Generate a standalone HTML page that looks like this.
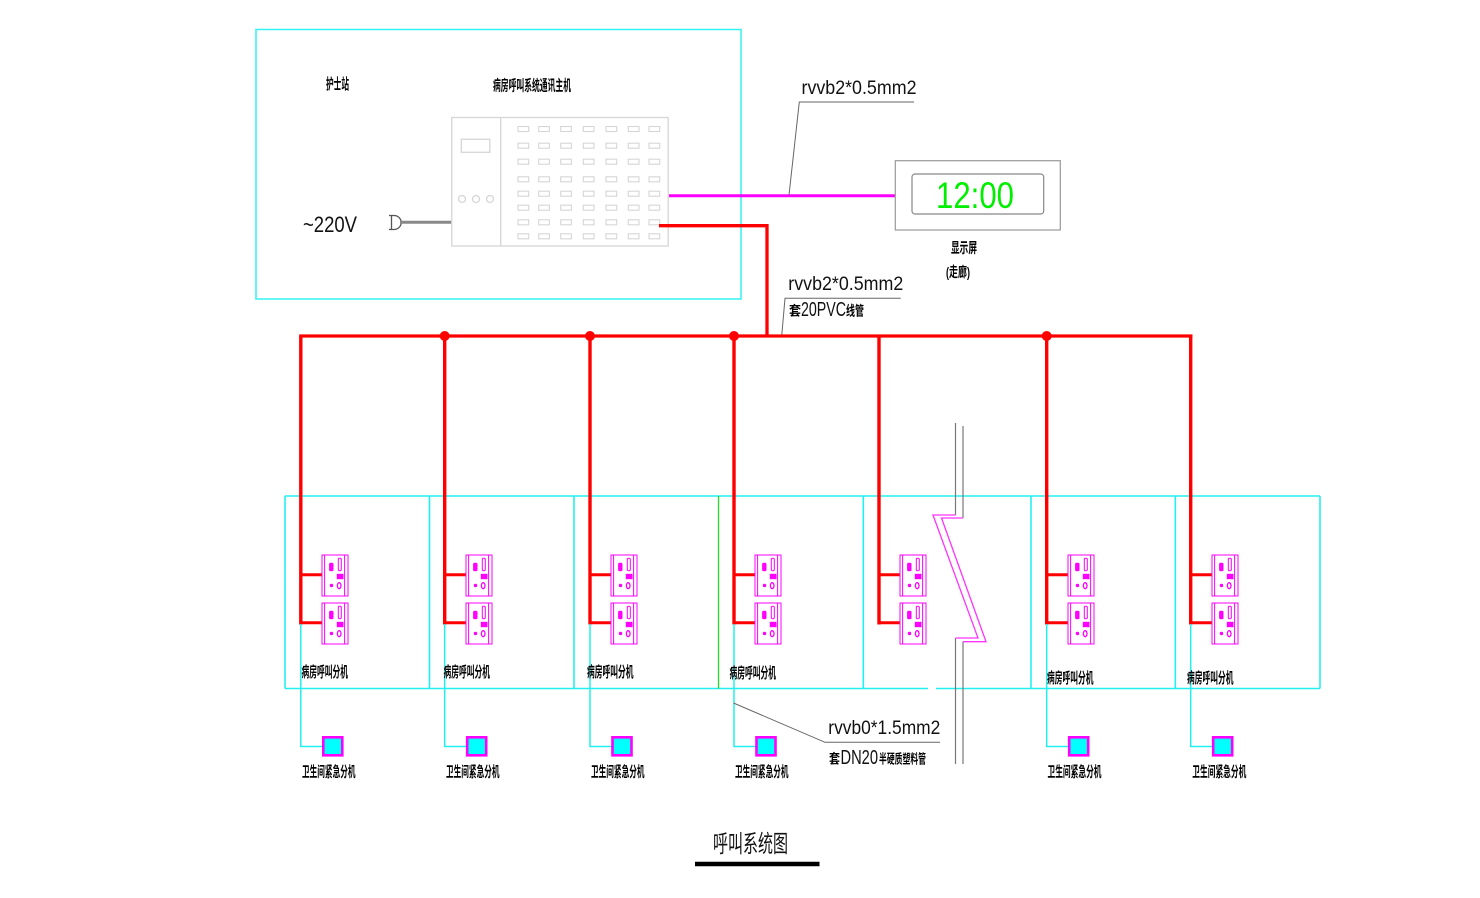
<!DOCTYPE html>
<html>
<head>
<meta charset="utf-8">
<style>
  html,body{margin:0;padding:0;background:#fff;}
  svg{display:block;}
  .cjk{font-family:"Liberation Sans","Noto Sans CJK SC",sans-serif;font-weight:bold;fill:#000;}
  .lat{font-family:"Liberation Sans","Noto Sans CJK SC",sans-serif;fill:#111;}
</style>
</head>
<body>
<svg width="1480" height="898" viewBox="0 0 1480 898" xmlns="http://www.w3.org/2000/svg">
  <rect x="0" y="0" width="1480" height="898" fill="#fff"/>

  <!-- Nurse station box -->
  <rect x="256" y="29.5" width="485" height="269.5" fill="none" stroke="#33f2f2" stroke-width="1.5"/>
  <text class="cjk" x="326" y="89" font-size="15" textLength="23" lengthAdjust="spacingAndGlyphs">护士站</text>
  <text class="cjk" x="493" y="90.5" font-size="15" textLength="78" lengthAdjust="spacingAndGlyphs">病房呼叫系统通讯主机</text>
  <text class="lat" x="303" y="232" font-size="22" textLength="54" lengthAdjust="spacingAndGlyphs">~220V</text>

  <!-- plug -->
  <g fill="none" stroke="#555" stroke-width="1.3">
    <line x1="391.5" y1="215" x2="391.5" y2="230"/>
    <line x1="389" y1="215.5" x2="394" y2="215.5"/>
    <line x1="389" y1="229.5" x2="394" y2="229.5"/>
    <path d="M394,215.5 A7.2,7 0 0 1 394,229.5"/>
  </g>
  <line x1="400" y1="222.3" x2="452" y2="222.3" stroke="#888" stroke-width="3"/>

  <!-- host -->
  <g fill="none" stroke="#d6d6d6" stroke-width="1.3">
    <rect x="451.7" y="117.5" width="216.5" height="128.5"/>
    <line x1="500.7" y1="117.5" x2="500.7" y2="246"/>
    <rect x="461.3" y="139.3" width="28.5" height="13"/>
    <circle cx="462" cy="199" r="3.5"/>
    <circle cx="476" cy="199" r="3.5"/>
    <circle cx="490" cy="199" r="3.5"/>
  </g>
  <g fill="none" stroke="#d6d6d6" stroke-width="1.1">
    <!-- grid generated: 7 cols x 8 rows -->
    <rect x="518" y="126.5" width="10.7" height="5"/><rect x="538.7" y="126.5" width="10.7" height="5"/><rect x="560.7" y="126.5" width="10.7" height="5"/><rect x="583.3" y="126.5" width="10.7" height="5"/><rect x="606" y="126.5" width="10.7" height="5"/><rect x="628.3" y="126.5" width="10.7" height="5"/><rect x="649" y="126.5" width="10.7" height="5"/>
    <rect x="518" y="143.2" width="10.7" height="5"/><rect x="538.7" y="143.2" width="10.7" height="5"/><rect x="560.7" y="143.2" width="10.7" height="5"/><rect x="583.3" y="143.2" width="10.7" height="5"/><rect x="606" y="143.2" width="10.7" height="5"/><rect x="628.3" y="143.2" width="10.7" height="5"/><rect x="649" y="143.2" width="10.7" height="5"/>
    <rect x="518" y="159.2" width="10.7" height="5"/><rect x="538.7" y="159.2" width="10.7" height="5"/><rect x="560.7" y="159.2" width="10.7" height="5"/><rect x="583.3" y="159.2" width="10.7" height="5"/><rect x="606" y="159.2" width="10.7" height="5"/><rect x="628.3" y="159.2" width="10.7" height="5"/><rect x="649" y="159.2" width="10.7" height="5"/>
    <rect x="518" y="176.8" width="10.7" height="5"/><rect x="538.7" y="176.8" width="10.7" height="5"/><rect x="560.7" y="176.8" width="10.7" height="5"/><rect x="583.3" y="176.8" width="10.7" height="5"/><rect x="606" y="176.8" width="10.7" height="5"/><rect x="628.3" y="176.8" width="10.7" height="5"/><rect x="649" y="176.8" width="10.7" height="5"/>
    <rect x="518" y="191.2" width="10.7" height="5"/><rect x="538.7" y="191.2" width="10.7" height="5"/><rect x="560.7" y="191.2" width="10.7" height="5"/><rect x="583.3" y="191.2" width="10.7" height="5"/><rect x="606" y="191.2" width="10.7" height="5"/><rect x="628.3" y="191.2" width="10.7" height="5"/><rect x="649" y="191.2" width="10.7" height="5"/>
    <rect x="518" y="205.2" width="10.7" height="5"/><rect x="538.7" y="205.2" width="10.7" height="5"/><rect x="560.7" y="205.2" width="10.7" height="5"/><rect x="583.3" y="205.2" width="10.7" height="5"/><rect x="606" y="205.2" width="10.7" height="5"/><rect x="628.3" y="205.2" width="10.7" height="5"/><rect x="649" y="205.2" width="10.7" height="5"/>
    <rect x="518" y="219.8" width="10.7" height="5"/><rect x="538.7" y="219.8" width="10.7" height="5"/><rect x="560.7" y="219.8" width="10.7" height="5"/><rect x="583.3" y="219.8" width="10.7" height="5"/><rect x="606" y="219.8" width="10.7" height="5"/><rect x="628.3" y="219.8" width="10.7" height="5"/><rect x="649" y="219.8" width="10.7" height="5"/>
    <rect x="518" y="233.8" width="10.7" height="5"/><rect x="538.7" y="233.8" width="10.7" height="5"/><rect x="560.7" y="233.8" width="10.7" height="5"/><rect x="583.3" y="233.8" width="10.7" height="5"/><rect x="606" y="233.8" width="10.7" height="5"/><rect x="628.3" y="233.8" width="10.7" height="5"/><rect x="649" y="233.8" width="10.7" height="5"/>
  </g>

  <!-- magenta link to display -->
  <line x1="669" y1="195.7" x2="895" y2="195.7" stroke="#ff00ff" stroke-width="3"/>
  <!-- leader 1 -->
  <polyline points="914,102 799.3,102 789,195" fill="none" stroke="#666" stroke-width="1"/>
  <text class="lat" x="801.5" y="94" font-size="19.5" textLength="115" lengthAdjust="spacingAndGlyphs">rvvb2*0.5mm2</text>

  <!-- display -->
  <rect x="895.3" y="160.7" width="165" height="69.3" fill="none" stroke="#999" stroke-width="1.2"/>
  <rect x="912" y="174" width="131.7" height="40" rx="3" fill="none" stroke="#888" stroke-width="1.2"/>
  <text x="936" y="208" font-size="37" textLength="78" lengthAdjust="spacingAndGlyphs" style="font-family:'Liberation Sans',sans-serif;fill:#00ee00;">12:00</text>
  <text class="cjk" x="951" y="253" font-size="14.5" textLength="26" lengthAdjust="spacingAndGlyphs">显示屏</text>
  <text class="cjk" x="946" y="277" font-size="14" textLength="24" lengthAdjust="spacingAndGlyphs">(走廊)</text>

  <!-- red from host to bus -->
  <polyline points="659,225.7 767,225.7 767,336" fill="none" stroke="#ff0000" stroke-width="3.3"/>
  <!-- leader 2 -->
  <polyline points="900.7,298.3 785,298.3 781.7,336" fill="none" stroke="#666" stroke-width="1"/>
  <text class="lat" x="788.3" y="290" font-size="19.5" textLength="115" lengthAdjust="spacingAndGlyphs">rvvb2*0.5mm2</text>
  <text class="cjk" x="789" y="315.5" font-size="13.5" textLength="12" lengthAdjust="spacingAndGlyphs">套</text>
  <text class="lat" x="801" y="316" font-size="20" textLength="45" lengthAdjust="spacingAndGlyphs">20PVC</text>
  <text class="cjk" x="846" y="315.5" font-size="13.5" textLength="18" lengthAdjust="spacingAndGlyphs">线管</text>

  <!-- room boxes -->
  <g fill="none" stroke="#22f0f0" stroke-width="1.6">
    <line x1="285" y1="496" x2="1320" y2="496"/>
    <line x1="285" y1="688.5" x2="928" y2="688.5"/>
    <line x1="936" y1="688.5" x2="1320" y2="688.5"/>
    <line x1="285" y1="496" x2="285" y2="688.5"/>
    <line x1="429.5" y1="496" x2="429.5" y2="688.5"/>
    <line x1="574" y1="496" x2="574" y2="688.5"/>
    <line x1="863.3" y1="496" x2="863.3" y2="688.5"/>
    <line x1="1031" y1="496" x2="1031" y2="688.5"/>
    <line x1="1175.3" y1="496" x2="1175.3" y2="688.5"/>
    <line x1="1320" y1="496" x2="1320" y2="688.5"/>
  </g>
  <line x1="718.5" y1="496" x2="718.5" y2="688.5" stroke="#22dd22" stroke-width="1.3"/>

  <!-- break symbol -->
  <g fill="none" stroke="#777" stroke-width="1.2">
    <line x1="955.5" y1="423" x2="955.5" y2="515"/>
    <line x1="963" y1="426" x2="963" y2="518"/>
    <line x1="955.5" y1="638" x2="955.5" y2="764"/>
    <line x1="963" y1="641.7" x2="963" y2="764"/>
  </g>
  <g fill="none" stroke="#ff33ff" stroke-width="1.3">
    <polyline points="955.5,515 933,515 978,638 955.5,638"/>
    <polyline points="963,518 941.5,518 986,641.7 963,641.7"/>
  </g>

  <!-- bus -->
  <line x1="299.2" y1="336" x2="1192.5" y2="336" stroke="#ff0000" stroke-width="3.3"/>
  <g fill="#ff0000">
    <circle cx="444.7" cy="336" r="5"/>
    <circle cx="590" cy="336" r="5"/>
    <circle cx="734" cy="336" r="5"/>
    <circle cx="1046.7" cy="336" r="5"/>
  </g>

  <!-- verticals and branches -->
  <g fill="none" stroke="#ff0000" stroke-width="3.4">
    <polyline points="300.8,336 300.8,624.5"/>
    <polyline points="444.7,336 444.7,624.5"/>
    <polyline points="590,336 590,624.5"/>
    <polyline points="734,336 734,624.5"/>
    <polyline points="879,336 879,624.5"/>
    <polyline points="1046.7,336 1046.7,624.5"/>
    <polyline points="1190.7,336 1190.7,624.5"/>
  </g>
  <g fill="none" stroke="#ff0000" stroke-width="3">
    <line x1="300.8" y1="574.8" x2="322" y2="574.8"/><line x1="300.8" y1="622.8" x2="322" y2="622.8"/>
    <line x1="444.7" y1="574.8" x2="466" y2="574.8"/><line x1="444.7" y1="622.8" x2="466" y2="622.8"/>
    <line x1="590" y1="574.8" x2="611" y2="574.8"/><line x1="590" y1="622.8" x2="611" y2="622.8"/>
    <line x1="734" y1="574.8" x2="755" y2="574.8"/><line x1="734" y1="622.8" x2="755" y2="622.8"/>
    <line x1="879" y1="574.8" x2="900" y2="574.8"/><line x1="879" y1="622.8" x2="900" y2="622.8"/>
    <line x1="1046.7" y1="574.8" x2="1068" y2="574.8"/><line x1="1046.7" y1="622.8" x2="1068" y2="622.8"/>
    <line x1="1190.7" y1="574.8" x2="1212" y2="574.8"/><line x1="1190.7" y1="622.8" x2="1212" y2="622.8"/>
  </g>

  <!-- devices -->
  <g stroke="#ff00ff" stroke-width="1" fill="none">
    <g transform="translate(322,555)"><rect x="0" y="0" width="26" height="41"/><line x1="2.6" y1="0" x2="2.6" y2="41"/><line x1="22.6" y1="0" x2="22.6" y2="41"/><rect x="7.6" y="8.3" width="3.4" height="7.4" rx="1" fill="#f0f"/><rect x="16.3" y="3.3" width="3" height="12.4" rx="1.2"/><rect x="15.3" y="19.3" width="5.7" height="4.4" fill="#f0f"/><circle cx="9.5" cy="30.5" r="1.2" fill="#f0f"/><ellipse cx="17.2" cy="30.7" rx="1.8" ry="3" stroke-width="1.3"/></g>
    <g transform="translate(322,603)"><rect x="0" y="0" width="26" height="41"/><line x1="2.6" y1="0" x2="2.6" y2="41"/><line x1="22.6" y1="0" x2="22.6" y2="41"/><rect x="7.6" y="8.3" width="3.4" height="7.4" rx="1" fill="#f0f"/><rect x="16.3" y="3.3" width="3" height="12.4" rx="1.2"/><rect x="15.3" y="19.3" width="5.7" height="4.4" fill="#f0f"/><circle cx="9.5" cy="30.5" r="1.2" fill="#f0f"/><ellipse cx="17.2" cy="30.7" rx="1.8" ry="3" stroke-width="1.3"/></g>
    <g transform="translate(466,555)"><rect x="0" y="0" width="26" height="41"/><line x1="2.6" y1="0" x2="2.6" y2="41"/><line x1="22.6" y1="0" x2="22.6" y2="41"/><rect x="7.6" y="8.3" width="3.4" height="7.4" rx="1" fill="#f0f"/><rect x="16.3" y="3.3" width="3" height="12.4" rx="1.2"/><rect x="15.3" y="19.3" width="5.7" height="4.4" fill="#f0f"/><circle cx="9.5" cy="30.5" r="1.2" fill="#f0f"/><ellipse cx="17.2" cy="30.7" rx="1.8" ry="3" stroke-width="1.3"/></g>
    <g transform="translate(466,603)"><rect x="0" y="0" width="26" height="41"/><line x1="2.6" y1="0" x2="2.6" y2="41"/><line x1="22.6" y1="0" x2="22.6" y2="41"/><rect x="7.6" y="8.3" width="3.4" height="7.4" rx="1" fill="#f0f"/><rect x="16.3" y="3.3" width="3" height="12.4" rx="1.2"/><rect x="15.3" y="19.3" width="5.7" height="4.4" fill="#f0f"/><circle cx="9.5" cy="30.5" r="1.2" fill="#f0f"/><ellipse cx="17.2" cy="30.7" rx="1.8" ry="3" stroke-width="1.3"/></g>
    <g transform="translate(611,555)"><rect x="0" y="0" width="26" height="41"/><line x1="2.6" y1="0" x2="2.6" y2="41"/><line x1="22.6" y1="0" x2="22.6" y2="41"/><rect x="7.6" y="8.3" width="3.4" height="7.4" rx="1" fill="#f0f"/><rect x="16.3" y="3.3" width="3" height="12.4" rx="1.2"/><rect x="15.3" y="19.3" width="5.7" height="4.4" fill="#f0f"/><circle cx="9.5" cy="30.5" r="1.2" fill="#f0f"/><ellipse cx="17.2" cy="30.7" rx="1.8" ry="3" stroke-width="1.3"/></g>
    <g transform="translate(611,603)"><rect x="0" y="0" width="26" height="41"/><line x1="2.6" y1="0" x2="2.6" y2="41"/><line x1="22.6" y1="0" x2="22.6" y2="41"/><rect x="7.6" y="8.3" width="3.4" height="7.4" rx="1" fill="#f0f"/><rect x="16.3" y="3.3" width="3" height="12.4" rx="1.2"/><rect x="15.3" y="19.3" width="5.7" height="4.4" fill="#f0f"/><circle cx="9.5" cy="30.5" r="1.2" fill="#f0f"/><ellipse cx="17.2" cy="30.7" rx="1.8" ry="3" stroke-width="1.3"/></g>
    <g transform="translate(755,555)"><rect x="0" y="0" width="26" height="41"/><line x1="2.6" y1="0" x2="2.6" y2="41"/><line x1="22.6" y1="0" x2="22.6" y2="41"/><rect x="7.6" y="8.3" width="3.4" height="7.4" rx="1" fill="#f0f"/><rect x="16.3" y="3.3" width="3" height="12.4" rx="1.2"/><rect x="15.3" y="19.3" width="5.7" height="4.4" fill="#f0f"/><circle cx="9.5" cy="30.5" r="1.2" fill="#f0f"/><ellipse cx="17.2" cy="30.7" rx="1.8" ry="3" stroke-width="1.3"/></g>
    <g transform="translate(755,603)"><rect x="0" y="0" width="26" height="41"/><line x1="2.6" y1="0" x2="2.6" y2="41"/><line x1="22.6" y1="0" x2="22.6" y2="41"/><rect x="7.6" y="8.3" width="3.4" height="7.4" rx="1" fill="#f0f"/><rect x="16.3" y="3.3" width="3" height="12.4" rx="1.2"/><rect x="15.3" y="19.3" width="5.7" height="4.4" fill="#f0f"/><circle cx="9.5" cy="30.5" r="1.2" fill="#f0f"/><ellipse cx="17.2" cy="30.7" rx="1.8" ry="3" stroke-width="1.3"/></g>
    <g transform="translate(900,555)"><rect x="0" y="0" width="26" height="41"/><line x1="2.6" y1="0" x2="2.6" y2="41"/><line x1="22.6" y1="0" x2="22.6" y2="41"/><rect x="7.6" y="8.3" width="3.4" height="7.4" rx="1" fill="#f0f"/><rect x="16.3" y="3.3" width="3" height="12.4" rx="1.2"/><rect x="15.3" y="19.3" width="5.7" height="4.4" fill="#f0f"/><circle cx="9.5" cy="30.5" r="1.2" fill="#f0f"/><ellipse cx="17.2" cy="30.7" rx="1.8" ry="3" stroke-width="1.3"/></g>
    <g transform="translate(900,603)"><rect x="0" y="0" width="26" height="41"/><line x1="2.6" y1="0" x2="2.6" y2="41"/><line x1="22.6" y1="0" x2="22.6" y2="41"/><rect x="7.6" y="8.3" width="3.4" height="7.4" rx="1" fill="#f0f"/><rect x="16.3" y="3.3" width="3" height="12.4" rx="1.2"/><rect x="15.3" y="19.3" width="5.7" height="4.4" fill="#f0f"/><circle cx="9.5" cy="30.5" r="1.2" fill="#f0f"/><ellipse cx="17.2" cy="30.7" rx="1.8" ry="3" stroke-width="1.3"/></g>
    <g transform="translate(1068,555)"><rect x="0" y="0" width="26" height="41"/><line x1="2.6" y1="0" x2="2.6" y2="41"/><line x1="22.6" y1="0" x2="22.6" y2="41"/><rect x="7.6" y="8.3" width="3.4" height="7.4" rx="1" fill="#f0f"/><rect x="16.3" y="3.3" width="3" height="12.4" rx="1.2"/><rect x="15.3" y="19.3" width="5.7" height="4.4" fill="#f0f"/><circle cx="9.5" cy="30.5" r="1.2" fill="#f0f"/><ellipse cx="17.2" cy="30.7" rx="1.8" ry="3" stroke-width="1.3"/></g>
    <g transform="translate(1068,603)"><rect x="0" y="0" width="26" height="41"/><line x1="2.6" y1="0" x2="2.6" y2="41"/><line x1="22.6" y1="0" x2="22.6" y2="41"/><rect x="7.6" y="8.3" width="3.4" height="7.4" rx="1" fill="#f0f"/><rect x="16.3" y="3.3" width="3" height="12.4" rx="1.2"/><rect x="15.3" y="19.3" width="5.7" height="4.4" fill="#f0f"/><circle cx="9.5" cy="30.5" r="1.2" fill="#f0f"/><ellipse cx="17.2" cy="30.7" rx="1.8" ry="3" stroke-width="1.3"/></g>
    <g transform="translate(1212,555)"><rect x="0" y="0" width="26" height="41"/><line x1="2.6" y1="0" x2="2.6" y2="41"/><line x1="22.6" y1="0" x2="22.6" y2="41"/><rect x="7.6" y="8.3" width="3.4" height="7.4" rx="1" fill="#f0f"/><rect x="16.3" y="3.3" width="3" height="12.4" rx="1.2"/><rect x="15.3" y="19.3" width="5.7" height="4.4" fill="#f0f"/><circle cx="9.5" cy="30.5" r="1.2" fill="#f0f"/><ellipse cx="17.2" cy="30.7" rx="1.8" ry="3" stroke-width="1.3"/></g>
    <g transform="translate(1212,603)"><rect x="0" y="0" width="26" height="41"/><line x1="2.6" y1="0" x2="2.6" y2="41"/><line x1="22.6" y1="0" x2="22.6" y2="41"/><rect x="7.6" y="8.3" width="3.4" height="7.4" rx="1" fill="#f0f"/><rect x="16.3" y="3.3" width="3" height="12.4" rx="1.2"/><rect x="15.3" y="19.3" width="5.7" height="4.4" fill="#f0f"/><circle cx="9.5" cy="30.5" r="1.2" fill="#f0f"/><ellipse cx="17.2" cy="30.7" rx="1.8" ry="3" stroke-width="1.3"/></g>
  </g>

  <!-- bathroom wires -->
  <g fill="none" stroke="#22f0f0" stroke-width="1.5">
    <polyline points="300.8,624 300.8,746.5 323,746.5"/>
    <polyline points="444.7,624 444.7,746.5 467,746.5"/>
    <polyline points="590,624 590,746.5 612,746.5"/>
    <polyline points="734,624 734,746.5 756,746.5"/>
    <polyline points="1046.7,624 1046.7,746.5 1069,746.5"/>
    <polyline points="1190.7,624 1190.7,746.5 1213,746.5"/>
  </g>
  <g fill="#00ffff" stroke="#ff00ff" stroke-width="2.6">
    <rect x="323.3" y="737.3" width="19" height="18"/>
    <rect x="467.2" y="737.3" width="19" height="18"/>
    <rect x="612.5" y="737.3" width="19" height="18"/>
    <rect x="756.5" y="737.3" width="19" height="18"/>
    <rect x="1069.2" y="737.3" width="19" height="18"/>
    <rect x="1213.2" y="737.3" width="19" height="18"/>
  </g>

  <!-- labels -->
  <g class="cjk" font-size="15">
    <text class="cjk" x="301.5" y="677" font-size="15" textLength="46.5" lengthAdjust="spacingAndGlyphs">病房呼叫分机</text>
    <text class="cjk" x="443.5" y="677" font-size="15" textLength="46.5" lengthAdjust="spacingAndGlyphs">病房呼叫分机</text>
    <text class="cjk" x="587" y="677" font-size="15" textLength="46.5" lengthAdjust="spacingAndGlyphs">病房呼叫分机</text>
    <text class="cjk" x="729.5" y="678" font-size="15" textLength="46.5" lengthAdjust="spacingAndGlyphs">病房呼叫分机</text>
    <text class="cjk" x="1047" y="683" font-size="15" textLength="46.5" lengthAdjust="spacingAndGlyphs">病房呼叫分机</text>
    <text class="cjk" x="1187" y="683" font-size="15" textLength="46.5" lengthAdjust="spacingAndGlyphs">病房呼叫分机</text>

    <text class="cjk" x="302" y="777" font-size="14.5" textLength="53.5" lengthAdjust="spacingAndGlyphs">卫生间紧急分机</text>
    <text class="cjk" x="446" y="777" font-size="14.5" textLength="53.5" lengthAdjust="spacingAndGlyphs">卫生间紧急分机</text>
    <text class="cjk" x="591" y="777" font-size="14.5" textLength="53.5" lengthAdjust="spacingAndGlyphs">卫生间紧急分机</text>
    <text class="cjk" x="735" y="777" font-size="14.5" textLength="53.5" lengthAdjust="spacingAndGlyphs">卫生间紧急分机</text>
    <text class="cjk" x="1047.5" y="777" font-size="14.5" textLength="54" lengthAdjust="spacingAndGlyphs">卫生间紧急分机</text>
    <text class="cjk" x="1192.3" y="777" font-size="14.5" textLength="54" lengthAdjust="spacingAndGlyphs">卫生间紧急分机</text>
  </g>

  <!-- leader 3 -->
  <polyline points="733.5,703 825,742.3 940,742.3" fill="none" stroke="#666" stroke-width="1"/>
  <text class="lat" x="828.3" y="734" font-size="19.5" textLength="112" lengthAdjust="spacingAndGlyphs">rvvb0*1.5mm2</text>
  <text class="cjk" x="829" y="763.5" font-size="13.5" textLength="11" lengthAdjust="spacingAndGlyphs">套</text>
  <text class="lat" x="840.5" y="764" font-size="20" textLength="37.5" lengthAdjust="spacingAndGlyphs">DN20</text>
  <text class="cjk" x="879" y="763.5" font-size="13" textLength="47" lengthAdjust="spacingAndGlyphs">半硬质塑料管</text>

  <!-- title -->
  <text x="713" y="852" font-size="24" textLength="75" lengthAdjust="spacingAndGlyphs" style="font-family:'Liberation Sans','Noto Sans CJK SC',sans-serif;fill:#111;">呼叫系统图</text>
  <line x1="695" y1="864" x2="819.5" y2="864" stroke="#000" stroke-width="4.5"/>
</svg>
</body>
</html>
